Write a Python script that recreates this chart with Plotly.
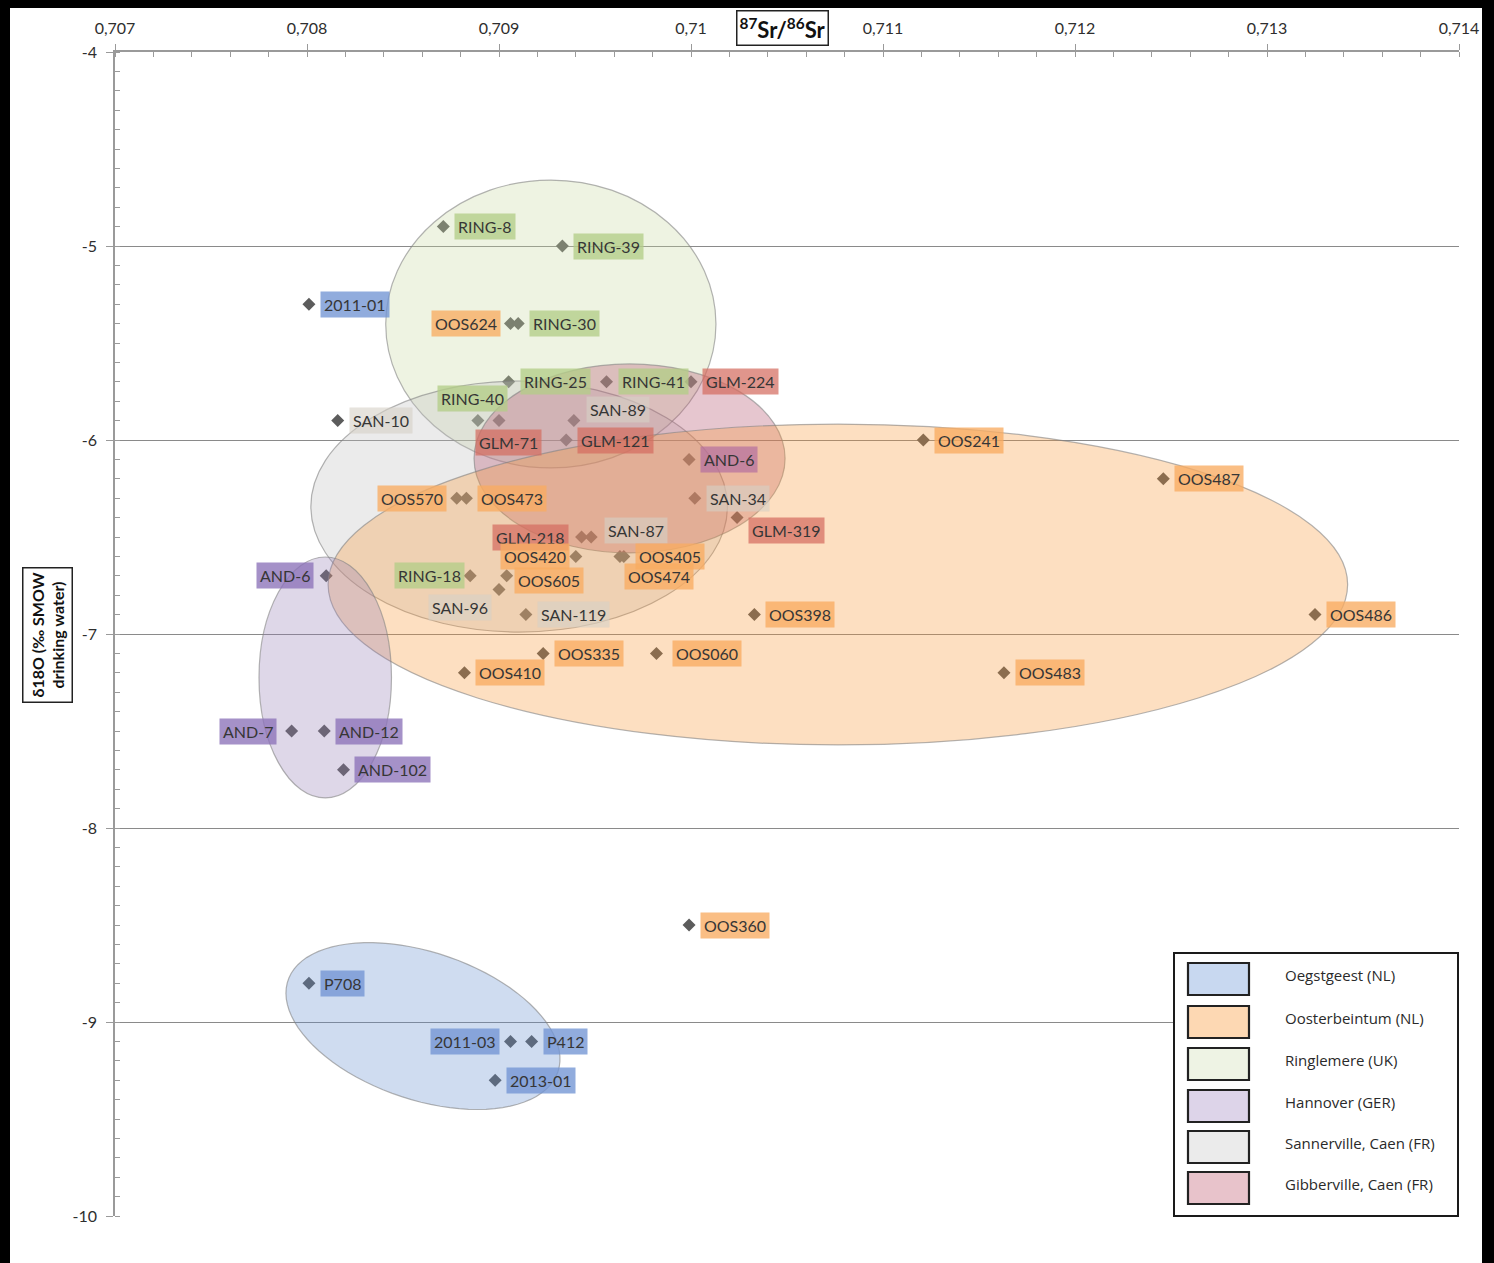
import numpy as np
import plotly.graph_objects as go

# ---------------- data ----------------
labels = ["RING-8", "RING-39", "2011-01", "OOS624", "RING-30", "RING-25", "RING-41", "GLM-224",
          "RING-40", "GLM-71", "SAN-10", "SAN-89", "GLM-121", "OOS241", "AND-6", "OOS487",
          "OOS570", "OOS473", "SAN-34", "GLM-319", "GLM-218", "SAN-87", "OOS420", "OOS405",
          "OOS474", "AND-6", "RING-18", "OOS605", "SAN-96", "SAN-119", "OOS398", "OOS486",
          "OOS335", "OOS060", "OOS410", "OOS483", "AND-7", "AND-12", "AND-102", "OOS360",
          "P708", "2011-03", "P412", "2013-01"]
sr_ratio = [0.70871, 0.70933, 0.70801, 0.70906, 0.70910, 0.70905, 0.70956, 0.71000,
            0.70889, 0.70900, 0.70816, 0.70939, 0.70935, 0.71121, 0.70999, 0.71246,
            0.70878, 0.70883, 0.71002, 0.71024, 0.70943, 0.70948, 0.70940, 0.70965,
            0.70963, 0.70810, 0.70885, 0.70904, 0.70900, 0.70914, 0.71033, 0.71325,
            0.70923, 0.70982, 0.70882, 0.71163, 0.70792, 0.70809, 0.70819, 0.70999,
            0.70801, 0.70906, 0.70917, 0.70898]
d18o = [-4.9, -5.0, -5.3, -5.4, -5.4, -5.7, -5.7, -5.7,
        -5.9, -5.9, -5.9, -5.9, -6.0, -6.0, -6.1, -6.2,
        -6.3, -6.3, -6.3, -6.4, -6.5, -6.5, -6.6, -6.6,
        -6.6, -6.7, -6.7, -6.7, -6.77, -6.9, -6.9, -6.9,
        -7.1, -7.1, -7.2, -7.2, -7.5, -7.5, -7.7, -8.5,
        -8.8, -9.1, -9.1, -9.3]
groups = ["Ring", "Ring", "Oeg", "Oos", "Ring", "Ring", "Ring", "Gib",
          "Ring", "Gib", "San", "San", "Gib", "Oos", "Han", "Oos",
          "Oos", "Oos", "San", "Gib", "Gib", "San", "Oos", "Oos",
          "Oos", "Han", "Ring", "Oos", "San", "San", "Oos", "Oos",
          "Oos", "Oos", "Oos", "Oos", "Han", "Han", "Han", "Oos",
          "Oeg", "Oeg", "Oeg", "Oeg"]

legend_names = ["Oegstgeest (NL)", "Oosterbeintum (NL)", "Ringlemere (UK)",
                "Hannover (GER)", "Sannerville, Caen (FR)", "Gibberville, Caen (FR)"]
x_tick_vals = [0.707, 0.708, 0.709, 0.710, 0.711, 0.712, 0.713, 0.714]
x_tick_text = ["0,707", "0,708", "0,709", "0,71", "0,711", "0,712", "0,713", "0,714"]
y_tick_vals = [-4, -5, -6, -7, -8, -9, -10]
y_tick_text = ["-4", "-5", "-6", "-7", "-8", "-9", "-10"]

# ---------------- styles ----------------
W, H = 1494, 1263
L, R, T, B = 115, 35, 52, 47
PW, PH = W - L - R, H - T - B
XR = (0.707, 0.714)
YR = (-10, -4)
PX_X = PW / (XR[1] - XR[0])
PX_Y = PH / (YR[1] - YR[0])


def px2paper(px, py):
    return (px - L) / PW, 1 - (py - T) / PH


label_bg = {
    "Oeg": "rgba(114,149,211,0.78)",
    "Oos": "rgba(249,172,98,0.78)",
    "Ring": "rgba(180,205,136,0.78)",
    "Han": "rgba(140,114,184,0.78)",
    "San": "rgba(214,209,198,0.6)",
    "Gib": "rgba(212,108,96,0.72)",
}
label_bg_override = {14: "rgba(180,110,160,0.7)"}

# (xanchor, xshift, yshift)
placement = {
    3: ("right", -10, 0), 8: ("center", -5, 22), 9: ("center", 9, -22),
    11: ("left", 12, 11), 16: ("right", -10, 0), 19: ("left", 11, -13),
    20: ("right", -13, 0), 21: ("left", 13, 7), 22: ("right", -6, 0),
    24: ("left", 4, -20), 25: ("right", -12, 0), 26: ("right", -5, 0),
    27: ("left", 7, -5), 28: ("right", -7, -18), 33: ("left", 16, 0),
    36: ("right", -15, 0), 41: ("right", -11, 0),
}

fig = go.Figure()
fig.add_trace(go.Scatter(
    x=sr_ratio, y=d18o, mode="markers",
    marker=dict(symbol="diamond", size=10, color="#5c5c5c", line=dict(width=0)),
    hoverinfo="text", text=labels, showlegend=False,
))

shapes = []
# ellipses (x0, x1, y0, y1) in data units
ellipses = [
    (0.70841, 0.71013, -4.66, -6.144, "rgba(198,215,158,0.3)"),    # Ringlemere
    (0.70802, 0.71019, -5.696, -6.99, "rgba(190,190,190,0.3)"),    # Sannerville
    (0.70887, 0.71049, -5.608, -6.582, "rgba(184,92,118,0.35)"),   # Gibberville
    (0.70811, 0.71342, -5.918, -7.572, "rgba(248,150,50,0.3)"),    # Oosterbeintum
    (0.70775, 0.70844, -6.603, -7.845, "rgba(145,122,178,0.3)"),   # Hannover
]
for x0, x1, y0, y1, fc in ellipses:
    shapes.append(dict(type="circle", xref="x", yref="y", x0=x0, x1=x1, y0=y0, y1=y1,
                       fillcolor=fc, line=dict(color="rgba(130,130,130,0.6)", width=1.2),
                       layer="above"))
# rotated Oegstgeest ellipse
cx, cy, a_px, b_px, ang = 0.708604, -9.021, 142.5, 73.7, np.deg2rad(18.7)
t = np.linspace(0, 2 * np.pi, 90)
dxp = a_px * np.cos(t) * np.cos(ang) - b_px * np.sin(t) * np.sin(ang)
dyp = a_px * np.cos(t) * np.sin(ang) + b_px * np.sin(t) * np.cos(ang)
ex = cx + dxp / PX_X
ey = cy - dyp / PX_Y
path = "M " + " L ".join(f"{xx:.7f},{yy:.5f}" for xx, yy in zip(ex, ey)) + " Z"
shapes.append(dict(type="path", xref="x", yref="y", path=path,
                   fillcolor="rgba(95,138,205,0.3)",
                   line=dict(color="rgba(130,130,130,0.6)", width=1.2), layer="above"))

# legend box
lx0, ly0 = px2paper(1174, 953)
lx1, ly1 = px2paper(1458, 1216)
shapes.append(dict(type="rect", xref="paper", yref="paper", x0=lx0, x1=lx1, y0=ly1, y1=ly0,
                   fillcolor="white", line=dict(color="#1a1a1a", width=2), layer="above"))
swatch_colors = ["#c8d8f0", "#fdd8b3", "#eef3e4", "#ddd4e9", "#ebebeb", "#e8c3cb"]
sw_tops = [963, 1006, 1048, 1090, 1131, 1172]
annotations = []
for i, (name, col) in enumerate(zip(legend_names, swatch_colors)):
    top = sw_tops[i]
    sx0, sy0 = px2paper(1188, top)
    sx1, sy1 = px2paper(1249, top + 32)
    shapes.append(dict(type="rect", xref="paper", yref="paper", x0=sx0, x1=sx1, y0=sy1, y1=sy0,
                       fillcolor=col, line=dict(color="#222222", width=2.2), layer="above"))
    tx, ty = px2paper(1283, top + 12)
    annotations.append(dict(xref="paper", yref="paper", x=tx, y=ty, text=name, showarrow=False,
                            xanchor="left", yanchor="middle",
                            font=dict(family="Open Sans", size=15, color="#2a2a2a")))

# black outer frame
for (a0, b0, a1, b1) in [(0, 0, 10, H), (0, 0, W, 8), (1482, 0, W, H)]:
    fx0, fy0 = px2paper(a0, b0)
    fx1, fy1 = px2paper(a1, b1)
    shapes.append(dict(type="rect", xref="paper", yref="paper", x0=fx0, x1=fx1, y0=fy1, y1=fy0,
                       fillcolor="black", line=dict(width=0), layer="above"))

# point labels
for i, (lab, xv, yv, g) in enumerate(zip(labels, sr_ratio, d18o, groups)):
    xa, xs, ys = placement.get(i, ("left", 11, 0))
    annotations.append(dict(
        x=xv, y=yv, xref="x", yref="y", text=lab, showarrow=False,
        xanchor=xa, yanchor="middle", xshift=xs, yshift=ys,
        bgcolor=label_bg_override.get(i, label_bg[g]), borderpad=3,
        font=dict(family="Lato", size=16, color="#363636"),
    ))

# axis titles
ax, ay = px2paper(782, 28)
annotations.append(dict(xref="paper", yref="paper", x=ax, y=ay, showarrow=False,
                        xanchor="center", yanchor="middle",
                        text="<b><sup>87</sup>Sr/<sup>86</sup>Sr</b>",
                        font=dict(family="Lato", size=22, color="#111"),
                        bgcolor="white", bordercolor="#222", borderwidth=1.5, borderpad=2))
bx, by = px2paper(47, 635)
annotations.append(dict(xref="paper", yref="paper", x=bx, y=by, showarrow=False, textangle=-90,
                        xanchor="center", yanchor="middle",
                        text="<b>δ18O (‰ SMOW<br>drinking water)</b>",
                        font=dict(family="Lato", size=16, color="#111"),
                        bgcolor="white", bordercolor="#222", borderwidth=1.5, borderpad=4))

fig.update_layout(
    width=W, height=H, margin=dict(l=L, r=R, t=T, b=B),
    paper_bgcolor="white", plot_bgcolor="white",
    shapes=shapes, annotations=annotations, showlegend=False,
    xaxis=dict(range=list(XR), side="top", tickmode="array", tickvals=x_tick_vals,
               ticktext=x_tick_text, showgrid=False, zeroline=False, showline=True,
               linecolor="#9a9a9a", linewidth=1.5, ticks="outside", ticklen=6,
               ticklabelstandoff=4,
               tickcolor="#9a9a9a", tickfont=dict(family="Lato", size=16, color="#2e2e2e")),
    yaxis=dict(range=list(YR), tickmode="array", tickvals=y_tick_vals, ticktext=y_tick_text,
               showgrid=True, gridcolor="#8a8a8a", gridwidth=1, zeroline=False, showline=True,
               linecolor="#9a9a9a", linewidth=1.5, ticks="outside", ticklen=7,
               ticklabelstandoff=6,
               tickcolor="#9a9a9a", tickfont=dict(family="Lato", size=16, color="#2e2e2e")),
)
fig.update_xaxes(minor=dict(tickmode="linear", tick0=0.707, dtick=0.0002, ticks="inside",
                            ticklen=5, tickcolor="#9a9a9a", showgrid=False))
fig.update_yaxes(minor=dict(tickmode="linear", tick0=-10, dtick=0.1, ticks="inside",
                            ticklen=5, tickcolor="#9a9a9a", showgrid=False))

fig.write_html("out.html")
